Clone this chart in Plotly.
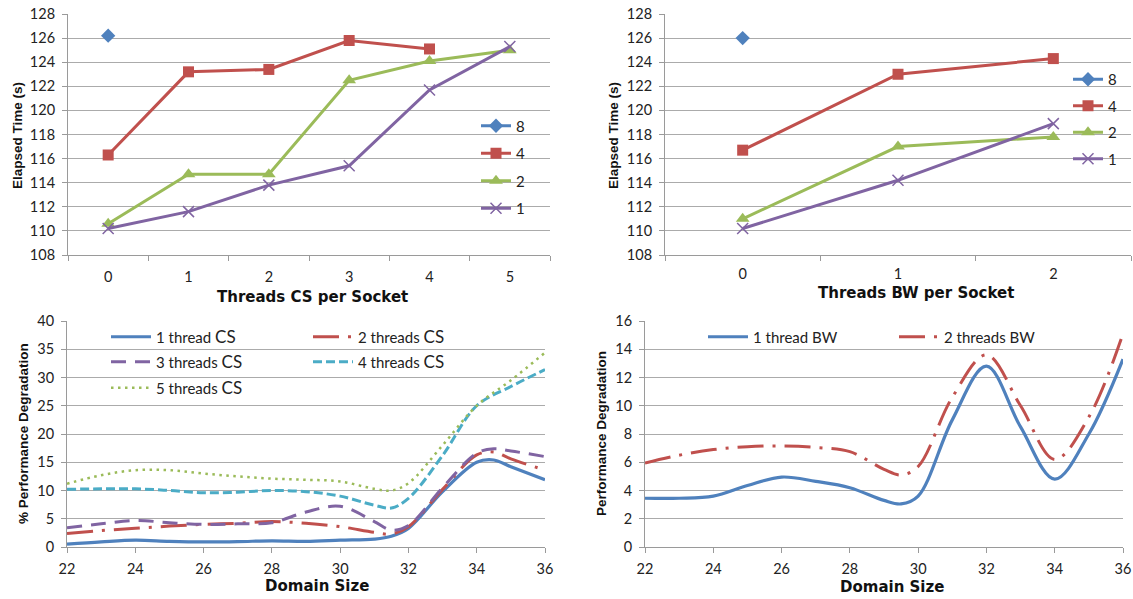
import plotly.graph_objects as go

# ---------------- data ----------------
cs_threads = [0, 1, 2, 3, 4, 5]
cs_8 = [126.2]
cs_4 = [116.3, 123.2, 123.4, 125.8, 125.1]
cs_2 = [110.6, 114.7, 114.7, 122.5, 124.1, 125.0]
cs_1 = [110.2, 111.6, 113.8, 115.4, 121.7, 125.3]

bw_threads = [0, 1, 2]
bw_8 = [126.0]
bw_4 = [116.7, 123.0, 124.3]
bw_2 = [111.0, 117.0, 117.8]
bw_1 = [110.2, 114.2, 118.9]

domain_cs = [22, 23, 24, 25, 26, 27, 28, 29, 30, 31, 31.5, 32, 33, 34, 34.5, 35, 36]
deg_cs_1 = [0.5, 0.9, 1.2, 1.0, 0.9, 0.95, 1.1, 1.0, 1.2, 1.4, 1.9, 3.3, 9.8, 15.0, 15.4, 14.2, 11.9]
deg_cs_2 = [2.4, 2.9, 3.3, 3.7, 4.0, 4.2, 4.5, 4.2, 3.6, 2.6, 2.3, 3.6, 10.2, 16.3, 16.8, 15.6, 13.6]
deg_cs_3 = [3.4, 4.1, 4.7, 4.3, 4.0, 4.1, 4.3, 6.2, 7.2, 4.5, 3.0, 3.8, 10.5, 16.6, 17.4, 17.0, 16.0]
domain_cs45 = [22, 23, 24, 25, 26, 27, 28, 29, 30, 31, 31.5, 32, 33, 34, 35, 36]
deg_cs_4 = [10.2, 10.3, 10.3, 10.0, 9.6, 9.7, 10.0, 9.8, 9.0, 7.4, 6.9, 8.6, 16.2, 25.0, 28.4, 31.4]
deg_cs_5 = [11.2, 12.7, 13.6, 13.6, 13.0, 12.5, 12.1, 11.9, 11.6, 10.3, 10.0, 11.3, 18.0, 25.0, 29.5, 34.4]

domain_bw = [22, 23, 24, 25, 26, 27, 28, 29, 29.5, 30, 31, 32, 33, 34, 35, 36]
deg_bw_1 = [3.45, 3.45, 3.6, 4.35, 4.95, 4.65, 4.2, 3.3, 3.05, 3.6, 9.0, 12.8, 8.5, 4.8, 8.0, 13.3]
deg_bw_2 = [5.95, 6.5, 6.9, 7.1, 7.15, 7.05, 6.75, 5.5, 5.1, 5.7, 10.6, 13.6, 10.0, 6.2, 9.2, 15.1]

# ---------------- style ----------------
BLUE = "#4F81BD"
RED = "#C0504D"
GREEN = "#9BBB59"
PURPLE = "#8064A2"
CYAN = "#4BACC6"
GRID = "#ABABAB"
AXIS = "#9A9A9A"
TICKFONT = dict(family="Lato, Carlito, sans-serif", size=14.5, color="#222222")
W, H = 1133, 599
CS = "<span style=\"font-size:17px\">CS</span>"


def xd(a, b):
    return [a / W, b / W]


def yd(top, bottom):
    return [1 - bottom / H, 1 - top / H]


fig = go.Figure()


def marker_traces(xs, s8, s4, s2, s1, xa, ya, leg):
    specs = [("8", s8, BLUE, dict(symbol="diamond", size=11, color=BLUE)),
             ("4", s4, RED, dict(symbol="square", size=11, color=RED)),
             ("2", s2, GREEN, dict(symbol="triangle-up", size=12, color=GREEN)),
             ("1", s1, PURPLE, dict(symbol="x-thin-open", size=11, color=PURPLE,
                                    line=dict(width=1.5, color=PURPLE)))]
    for name, ys, col, mk in specs:
        fig.add_trace(go.Scatter(x=xs[:len(ys)], y=ys, name=name, mode="lines+markers",
                                 line=dict(color=col, width=3), marker=mk,
                                 legendgroup=leg + name,
                                 xaxis=xa, yaxis=ya, legend=leg))


marker_traces(cs_threads, cs_8, cs_4, cs_2, cs_1, "x", "y", "legend")
marker_traces(bw_threads, bw_8, bw_4, bw_2, bw_1, "x2", "y2", "legend2")

# ---- bottom-left ----
fig.add_trace(go.Scatter(x=domain_cs, y=deg_cs_1, name="1 thread " + CS, mode="lines",
                         line=dict(color=BLUE, width=3.2, shape="spline", smoothing=1),
                         xaxis="x3", yaxis="y3", legend="legend3"))
fig.add_trace(go.Scatter(x=domain_cs, y=deg_cs_2, name="2 threads " + CS, mode="lines",
                         line=dict(color=RED, width=3, shape="spline", smoothing=1,
                                   dash="26px,9px,3px,9px"),
                         xaxis="x3", yaxis="y3", legend="legend3"))
fig.add_trace(go.Scatter(x=domain_cs, y=deg_cs_3, name="3 threads " + CS, mode="lines",
                         line=dict(color=PURPLE, width=3, shape="spline", smoothing=1,
                                   dash="15px,9px"),
                         xaxis="x3", yaxis="y3", legend="legend4"))
fig.add_trace(go.Scatter(x=domain_cs45, y=deg_cs_4, name="4 threads " + CS, mode="lines",
                         line=dict(color=CYAN, width=3, shape="spline", smoothing=1,
                                   dash="9px,4px"),
                         xaxis="x3", yaxis="y3", legend="legend4"))
fig.add_trace(go.Scatter(x=domain_cs45, y=deg_cs_5, name="5 threads " + CS, mode="lines",
                         line=dict(color=GREEN, width=2.5, shape="spline", smoothing=1,
                                   dash="2.5px,4.5px"),
                         xaxis="x3", yaxis="y3", legend="legend5"))

# ---- bottom-right ----
fig.add_trace(go.Scatter(x=domain_bw, y=deg_bw_1, name="1 thread BW", mode="lines",
                         line=dict(color=BLUE, width=3.2, shape="spline", smoothing=1),
                         xaxis="x4", yaxis="y4", legend="legend6"))
fig.add_trace(go.Scatter(x=domain_bw, y=deg_bw_2, name="2 threads BW", mode="lines",
                         line=dict(color=RED, width=3, shape="spline", smoothing=1,
                                   dash="26px,9px,3px,9px"),
                         xaxis="x4", yaxis="y4", legend="legend6"))

common_y = dict(showgrid=True, gridcolor=GRID, gridwidth=1, showline=True, linecolor=AXIS,
                linewidth=1, ticks="outside", ticklen=5, tickcolor=AXIS, tickfont=TICKFONT,
                zeroline=False, ticklabelstandoff=4)
cat_x = dict(showgrid=False, showline=True, linecolor=AXIS, linewidth=1, ticks="",
             tickfont=TICKFONT, zeroline=False,
             minor=dict(ticks="outside", ticklen=5, tickcolor=AXIS, tick0=0.5, dtick=1, showgrid=False))
num_x = dict(showgrid=False, showline=True, linecolor=AXIS, linewidth=1, ticks="outside",
             ticklen=5, tickcolor=AXIS, tickfont=TICKFONT, zeroline=False,
             range=[22, 36], tickvals=[22, 24, 26, 28, 30, 32, 34, 36], ticklabelstandoff=4)

legend_top = dict(bgcolor="rgba(0,0,0,0)", font=dict(family="Lato, sans-serif", size=15, color="#222"),
                  traceorder="grouped", itemwidth=30,
                  xanchor="left", yanchor="middle")
legend_row = dict(bgcolor="rgba(0,0,0,0)", orientation="h",
                  font=dict(family="Lato, sans-serif", size=15, color="#222"),
                  xanchor="left", yanchor="middle", itemwidth=40)

fig.update_layout(
    width=W, height=H, margin=dict(l=0, r=0, t=0, b=0, autoexpand=False),
    paper_bgcolor="white", plot_bgcolor="white",
    showlegend=True,
    xaxis=dict(domain=xd(68, 550), range=[-0.5, 5.5], tickvals=cs_threads, anchor="y",
               ticklabelstandoff=9, **cat_x),
    yaxis=dict(domain=yd(14, 255), range=[108, 128], dtick=2, anchor="x", **common_y),
    xaxis2=dict(domain=xd(665, 1131), range=[-0.5, 2.5], tickvals=bw_threads, anchor="y2",
                ticklabelstandoff=6, **cat_x),
    yaxis2=dict(domain=yd(14, 255), range=[108, 128], dtick=2, anchor="x2", **common_y),
    xaxis3=dict(domain=xd(67, 545), anchor="y3", **num_x),
    yaxis3=dict(domain=yd(321, 547), range=[0, 40], dtick=5, anchor="x3", **common_y),
    xaxis4=dict(domain=xd(645, 1123), anchor="y4", **num_x),
    yaxis4=dict(domain=yd(321, 547), range=[0, 16], dtick=2, anchor="x4", **common_y),
    legend=dict(x=476 / W, y=1 - 167 / H, tracegroupgap=5, **legend_top),
    legend2=dict(x=1068 / W, y=1 - 119 / H, tracegroupgap=4, **legend_top),
    legend3=dict(x=106 / W, y=1 - 337 / H, entrywidth=147, **legend_row),
    legend4=dict(x=106 / W, y=1 - 362 / H, entrywidth=147, **legend_row),
    legend5=dict(x=106 / W, y=1 - 388 / H, entrywidth=147, **legend_row),
    legend6=dict(x=703 / W, y=1 - 337 / H, entrywidth=136, **legend_row),
)

TITLE_FONT = dict(family="DejaVu Sans, sans-serif", size=15, color="#111111")
YT_FONT = dict(family="Liberation Sans, Arial, sans-serif", size=13.5, color="#111111")
ann = [
    dict(text="<b>Threads CS per Socket</b>", x=312 / W, y=1 - 297 / H, font=TITLE_FONT, textangle=0),
    dict(text="<b>Threads BW per Socket</b>", x=916 / W, y=1 - 293 / H, font=TITLE_FONT, textangle=0),
    dict(text="<b>Domain Size</b>", x=317 / W, y=1 - 586 / H, font=TITLE_FONT, textangle=0),
    dict(text="<b>Domain Size</b>", x=892 / W, y=1 - 587 / H, font=TITLE_FONT, textangle=0),
    dict(text="<b>Elapsed Time (s)</b>", x=17 / W, y=1 - 136 / H, font=YT_FONT, textangle=-90),
    dict(text="<b>Elapsed Time (s)</b>", x=613 / W, y=1 - 136 / H, font=YT_FONT, textangle=-90),
    dict(text="<b>% Performance Degradation</b>", x=23 / W, y=1 - 434 / H, font=YT_FONT, textangle=-90),
    dict(text="<b>Performance Degradation</b>", x=601 / W, y=1 - 434 / H, font=YT_FONT, textangle=-90),
]
for a in ann:
    fig.add_annotation(xref="paper", yref="paper", showarrow=False,
                       xanchor="center", yanchor="middle", **a)

fig.write_html("out.html", config={"displayModeBar": False},
               post_script="document.body.style.margin='0';document.body.style.overflow='hidden';")
